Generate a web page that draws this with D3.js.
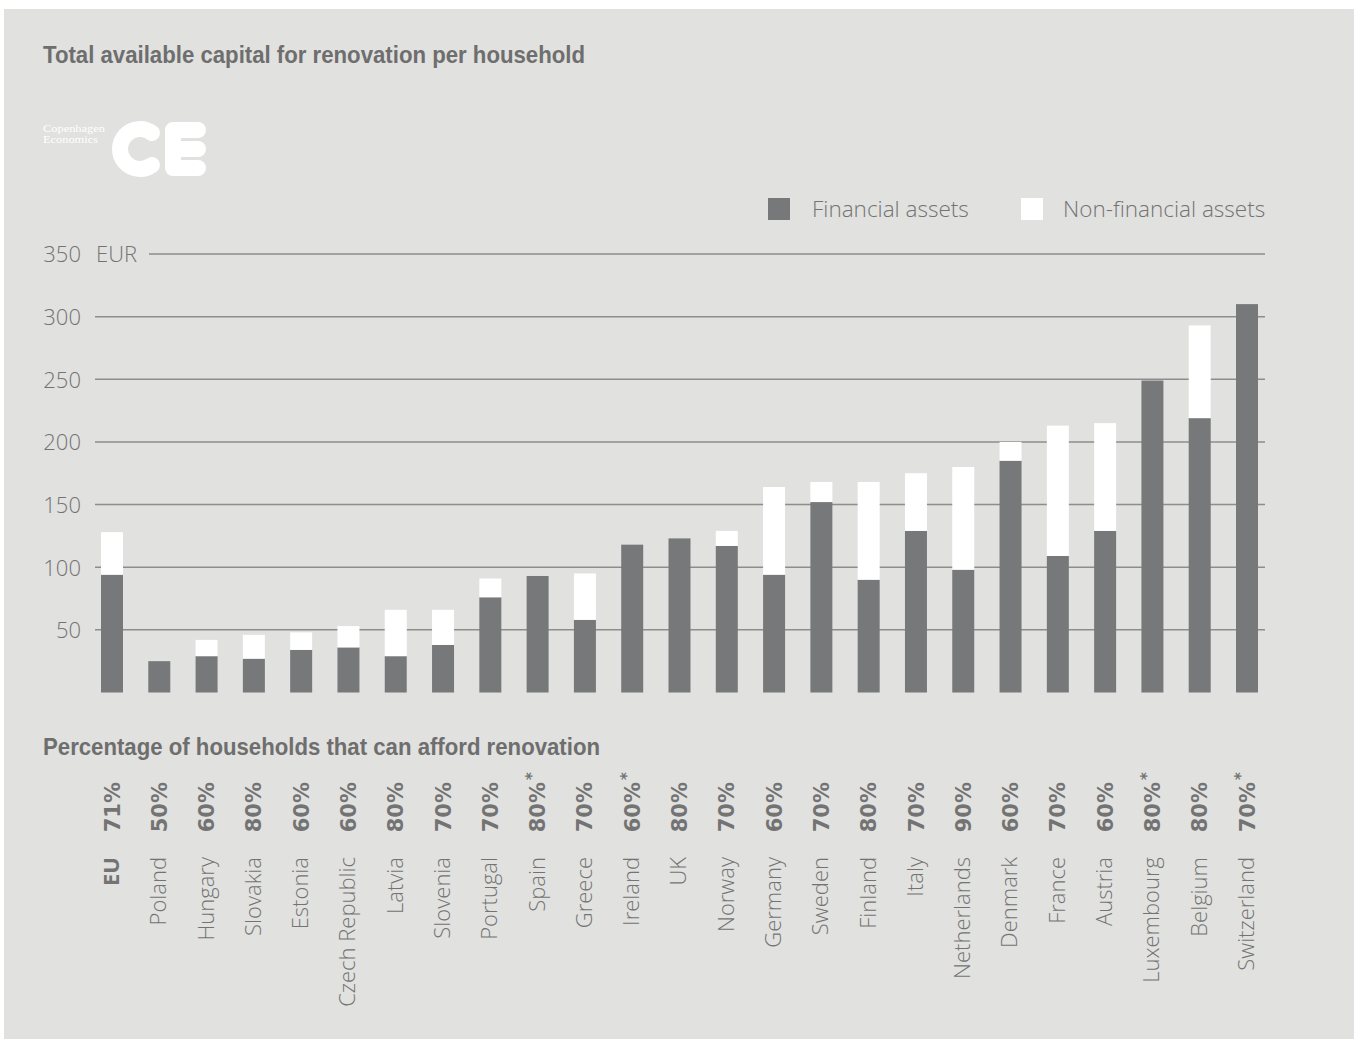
<!DOCTYPE html>
<html>
<head>
<meta charset="utf-8">
<script src="https://cdn.jsdelivr.net/npm/d3@7"></script>
<style>
  html, body { margin: 0; padding: 0; background: #ffffff; }
  svg { display: block; }
</style>
</head>
<body>
<svg id="chart" width="1354" height="1039"></svg>
<script>
// Countries (left to right), share of households able to afford renovation,
// and capital per household split into financial / non-financial assets (EUR).
const countries = ["EU", "Poland", "Hungary", "Slovakia", "Estonia", "Czech Republic", "Latvia",
  "Slovenia", "Portugal", "Spain", "Greece", "Ireland", "UK", "Norway", "Germany", "Sweden",
  "Finland", "Italy", "Netherlands", "Denmark", "France", "Austria", "Luxembourg", "Belgium", "Switzerland"];
const shareLabels = ["71%", "50%", "60%", "80%", "60%", "60%", "80%", "70%", "70%", "80%", "70%", "60%",
  "80%", "70%", "60%", "70%", "80%", "70%", "90%", "60%", "70%", "60%", "80%", "80%", "70%"];
const starred = ["Spain", "Ireland", "Luxembourg", "Switzerland"];
const financial = [94, 25, 29, 27, 34, 36, 29, 38, 76, 93, 58, 118, 123, 117, 94, 152,
  90, 129, 98, 185, 109, 129, 249, 219, 310];
const nonFinancial = [34, 0, 13, 19, 14, 17, 37, 28, 15, 0, 37, 0, 0, 12, 70, 16,
  78, 46, 82, 15, 104, 86, 0, 74, 0];
const yTicks = [50, 100, 150, 200, 250, 300, 350];
const seriesNames = ["Financial assets", "Non-financial assets"];

const barColor = "#77787a";
const textColor = "#737373";
const gridColor = "#8d8d8d";
const bg = "#e1e1df";
const lightFont = "'Open Sans', sans-serif";
const headFont = "'Liberation Sans', Arial, sans-serif";

const svg = d3.select("#chart");

svg.append("rect").attr("x", 4).attr("y", 9).attr("width", 1350).attr("height", 1030).attr("fill", bg);

// Condensed bold headings
function heading(txt, yPos, len) {
  svg.append("text")
    .attr("x", 43).attr("y", yPos)
    .attr("font-family", headFont)
    .attr("font-weight", 700).attr("font-size", 24)
    .attr("textLength", len).attr("lengthAdjust", "spacingAndGlyphs")
    .attr("fill", "#6e6e6e")
    .text(txt);
}
heading("Total available capital for renovation per household", 63, 542);

// Logo
const logo = svg.append("g").attr("fill", "none").attr("stroke", "#ffffff");
logo.append("text").attr("x", 43).attr("y", 132).attr("stroke", "none").attr("fill", "#ffffff")
  .attr("font-family", "'Liberation Serif', serif").attr("font-size", 9.5)
  .attr("textLength", 62).attr("lengthAdjust", "spacingAndGlyphs").text("Copenhagen");
logo.append("text").attr("x", 43).attr("y", 143).attr("stroke", "none").attr("fill", "#ffffff")
  .attr("font-family", "'Liberation Serif', serif").attr("font-size", 9.5)
  .attr("textLength", 55).attr("lengthAdjust", "spacingAndGlyphs").text("Economics");
const arcC = d3.path();
arcC.arc(140, 149, 20, -0.93, 0.93, true);
logo.append("path").attr("d", arcC.toString())
  .attr("stroke-width", 16).attr("stroke-linecap", "round");
logo.append("path")
  .attr("d", "M198,130 H173 V168 H198 M173,149 H198")
  .attr("stroke-width", 16).attr("stroke-linecap", "round").attr("stroke-linejoin", "round");

// Scales
const x = d3.scaleBand()
  .domain(countries)
  .range([88.35, 1270.65])
  .paddingInner(0.535)
  .paddingOuter(0.2675);
const y = d3.scaleLinear().domain([0, 350]).range([692.5, 254]);

// Gridlines and y labels
const yAxis = d3.axisLeft(y).tickValues(yTicks).tickSize(0).tickPadding(0);
const grid = svg.append("g");
grid.selectAll("line").data(yTicks).join("line")
  .attr("x1", d => d === 350 ? 149 : 95)
  .attr("x2", 1265)
  .attr("y1", d => y(d)).attr("y2", d => y(d))
  .attr("stroke", gridColor).attr("stroke-width", 1.5);

const yg = svg.append("g").attr("transform", "translate(81,0)").call(yAxis);
yg.select(".domain").remove();
yg.selectAll("text")
  .attr("font-family", lightFont).attr("font-weight", 300)
  .attr("font-size", 22).attr("fill", textColor).attr("dy", "0.36em");

svg.append("text").attr("x", 96).attr("y", y(350)).attr("dy", "0.36em")
  .attr("font-family", lightFont).attr("font-weight", 300)
  .attr("font-size", 22).attr("fill", textColor).text("EUR");

// Stacked bars
const rows = countries.map((c, i) => ({ country: c, fin: financial[i], non: nonFinancial[i] }));
const stack = d3.stack().keys(["fin", "non"])(rows);
const fills = [barColor, "#ffffff"];
svg.append("g").selectAll("g").data(stack).join("g")
  .attr("fill", (d, i) => fills[i])
  .selectAll("rect").data(d => d).join("rect")
  .attr("x", d => x(d.data.country))
  .attr("width", x.bandwidth())
  .attr("y", d => y(d[1]))
  .attr("height", d => y(d[0]) - y(d[1]));

// Legend
const legend = svg.append("g");
const legendItems = [
  { name: seriesNames[0], color: barColor, bx: 768, tx: 812 },
  { name: seriesNames[1], color: "#ffffff", bx: 1021, tx: 1063 }
];
legendItems.forEach(it => {
  legend.append("rect").attr("x", it.bx).attr("y", 198).attr("width", 22).attr("height", 22).attr("fill", it.color);
  legend.append("text").attr("x", it.tx).attr("y", 217)
    .attr("font-family", lightFont).attr("font-weight", 300)
    .attr("font-size", 22.5).attr("fill", textColor).text(it.name);
});

// Lower section heading
heading("Percentage of households that can afford renovation", 755, 557);

// Rotated category and share labels
const cols = svg.append("g").selectAll("g").data(countries).join("g");
cols.append("text")
  .attr("transform", d => `translate(${x(d) + x.bandwidth() / 2},782) rotate(-90)`)
  .attr("text-anchor", "end").attr("dy", "0.36em")
  .attr("font-family", "'DejaVu Sans', sans-serif").attr("font-weight", 700)
  .attr("font-size", 21).attr("fill", textColor)
  .text((d, i) => shareLabels[i]);
cols.filter(d => starred.includes(d)).append("text")
  .attr("transform", d => `translate(${x(d) + x.bandwidth() / 2 - 6},780) rotate(-90)`)
  .attr("text-anchor", "start").attr("dy", "0.36em")
  .attr("font-family", "'DejaVu Sans', sans-serif").attr("font-weight", 700)
  .attr("font-size", 15).attr("fill", textColor)
  .text("*");
cols.append("text")
  .attr("transform", d => `translate(${x(d) + x.bandwidth() / 2 - 1},857) rotate(-90)`)
  .attr("text-anchor", "end").attr("dy", "0.36em")
  .attr("font-family", lightFont)
  .attr("font-weight", d => d === "EU" ? 700 : 300)
  .attr("font-size", 22).attr("fill", textColor)
  .text(d => d);
</script>
</body>
</html>
